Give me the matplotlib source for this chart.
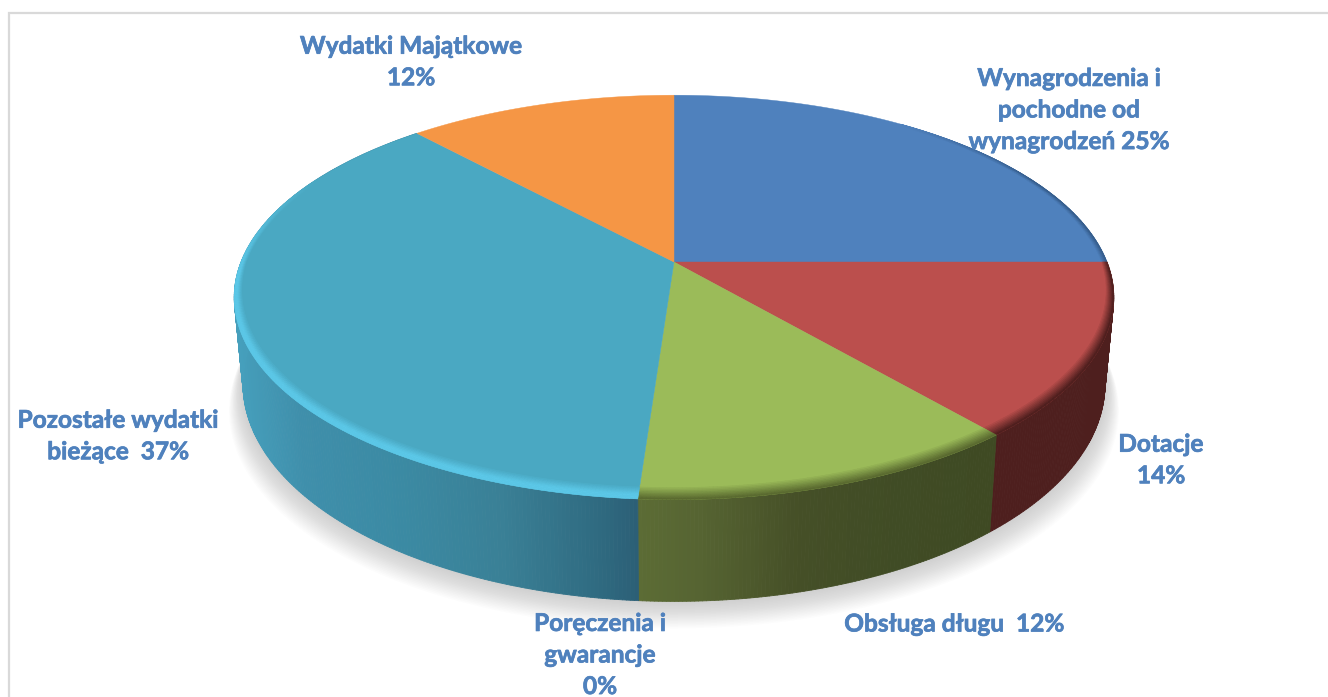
import numpy as np
import matplotlib
matplotlib.use("Agg")
import matplotlib.pyplot as plt
import matplotlib.patheffects as pe
from matplotlib.collections import PolyCollection
from matplotlib.colors import to_rgb

names = ["Wynagrodzenia i\npochodne od\nwynagrodzeń", "Dotacje", "Obsługa długu",
         "Poręczenia i\ngwarancje", "Pozostałe wydatki\nbieżące", "Wydatki Majątkowe"]
# shares read from the slice edges, labels show them rounded
values = [25, 13.85, 12.25, 0, 37.2, 11.7]
seps = [" ", "\n", "  ", "\n", "  ", "\n"]
label_x = [1069, 1161, 954, 600, 118, 411]
label_y = [110, 460, 624, 655, 436, 62]
face_cols = ["#4f81bd", "#bb4f4d", "#9bbb59", "#7f64a2", "#4aa8c2", "#f59645"]
rim_cols = ["#2f5480", "#4e1f1e", "#5a6a30", "#7f64a2", "#5cc8e8", "#f59645"]

# side colours change from left to right
side_x = {1: [990, 1120],
          2: [637, 700, 800, 900, 990],
          4: [230, 300, 400, 500, 600, 637]}
side_c = {1: ["#4e1f1e", "#4e1f1e"],
          2: ["#5c6c35", "#566432", "#454f27", "#404c25", "#3f4a23"],
          4: ["#46a0bd", "#3f8fab", "#3b8aa3", "#3a8096", "#2f6a80", "#2c5f76"]}

# perspective of the disc
cx, cy = 674, 262
a, b, k = 433, 196, 0.175
depth = 84
shrink = 0.98


def top(theta, r=1.0):
    u = r * np.sin(theta)
    v = -r * np.cos(theta)
    d = 1 - k * v
    return cx + a * u / d, cy + b * v / d


def bottom(theta):
    x, y = top(theta)
    v = -np.cos(theta)
    return cx + (x - cx) * shrink, y + depth / (1 - k * v)


def blend(c1, c2, t):
    c1 = np.array(to_rgb(c1))
    c2 = np.array(to_rgb(c2))
    return tuple(c1 + (c2 - c1) * t)


fig = plt.figure(figsize=(13.28, 6.97), dpi=100)
ax = fig.add_axes([0, 0, 1, 1])
ax.set_xlim(0, 1328)
ax.set_ylim(697, 0)
ax.axis("off")

# frame
ax.plot([9, 9, 1328], [697, 13, 13], color="#d9d9d9", lw=1.6, solid_joinstyle="miter", zorder=1)

# soft shadow under the pie
tt = np.linspace(0, 2 * np.pi, 361)
bx, by = bottom(tt)
for i in range(18, 0, -1):
    s = 1 + i * 0.0018
    ax.fill(cx + (bx - cx) * s, by + i * 1.5, color="#606060", alpha=0.014, lw=0, zorder=2)

edges = np.concatenate([[0], np.cumsum(values)]) / np.sum(values) * 2 * np.pi

# sides
for i, v in enumerate(values):
    if v == 0 or i not in side_x:
        continue
    th = np.linspace(edges[i], edges[i + 1], int(v * 8) + 2)
    th = th[(np.cos(th) < 0.45)] if i != 4 else th
    rgb = np.array([to_rgb(c) for c in side_c[i]])
    polys = []
    cols = []
    for t0, t1 in zip(th[:-1], th[1:]):
        x0, y0 = top(t0)
        x1, y1 = top(t1)
        x2, y2 = bottom(t1)
        x3, y3 = bottom(t0)
        polys.append([(x0, y0), (x1, y1), (x2, y2), (x3, y3)])
        xm = (x0 + x1) / 2
        cols.append([np.interp(xm, side_x[i], rgb[:, n]) for n in range(3)])
    ax.add_collection(PolyCollection(polys, facecolors=cols, edgecolors=cols, linewidths=0.6, zorder=3))

# top faces
for i, v in enumerate(values):
    if v == 0:
        continue
    th = np.linspace(edges[i], edges[i + 1], int(v * 8) + 2)
    x, y = top(th)
    ax.fill(np.r_[cx, x], np.r_[cy, y], color=face_cols[i], lw=0.3, zorder=4)

# bevel along the edge of the top face
prof = np.linspace(0, 1, 9)
for i, v in enumerate(values):
    if v == 0:
        continue
    th = np.linspace(edges[i], edges[i + 1], int(v * 8) + 2)
    polys = []
    cols = []
    for t0, t1 in zip(th[:-1], th[1:]):
        tm = (t0 + t1) / 2
        vm = -np.cos(tm)
        # nothing at the back, widest at the front
        w = np.clip((vm + 0.45) / 0.5, 0, 1)
        if i == 0:
            w = np.clip((np.sin(tm) - 0.6) / 0.3, 0, 1) * 0.8
        if i == 5 or w == 0:
            continue
        width = 0.012 + 0.03 * max(vm, 0)
        for p0, p1 in zip(prof[:-1], prof[1:]):
            r0 = 1 - width * (1 - p0)
            r1 = 1 - width * (1 - p1)
            xa, ya = top(t0, r0)
            xb, yb = top(t1, r0)
            xc, yc = top(t1, r1)
            xd, yd = top(t0, r1)
            polys.append([(xa, ya), (xb, yb), (xc, yc), (xd, yd)])
            tb = min(p1 / 0.7, 1) if i == 4 else p1
            cols.append(blend(face_cols[i], rim_cols[i], tb * w))
    if polys:
        ax.add_collection(PolyCollection(polys, facecolors=cols, edgecolors=cols, linewidths=0.4, zorder=5))

# labels
for i, name in enumerate(names):
    ax.text(label_x[i], label_y[i], f"{name}{seps[i]}{values[i]:.0f}%", color="#4f81bd",
            fontsize=17.6, family="Lato", weight="bold", ha="center", va="center",
            linespacing=1.45, zorder=6,
            path_effects=[pe.withStroke(linewidth=0.5, foreground="#4f81bd")])

fig.savefig("out.png", dpi=100)
